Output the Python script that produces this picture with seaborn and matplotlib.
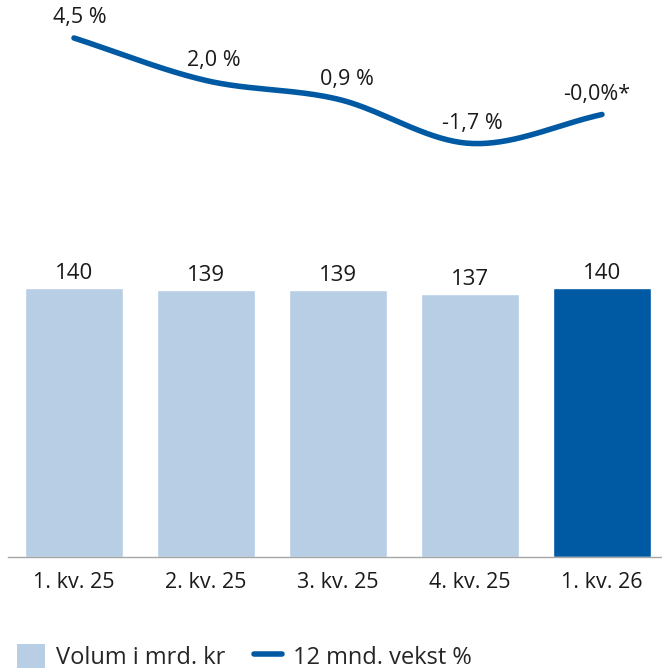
import numpy as np
import pandas as pd
import matplotlib
matplotlib.use("Agg")
import matplotlib.pyplot as plt
import seaborn as sns
from matplotlib.patches import Patch
from matplotlib.lines import Line2D

# Data
quarters = ["1. kv. 25", "2. kv. 25", "3. kv. 25", "4. kv. 25", "1. kv. 26"]
volume = [140, 139, 139, 137, 140]
growth = [4.5, 2.0, 0.9, -1.7, -0.0]
growth_labels = ["4,5 %", "2,0 %", "0,9 %", "-1,7 %", "-0,0%*"]
legend_labels = ["Volum i mrd. kr", "12 mnd. vekst %"]

LIGHT = "#B8CEE5"
DARK = "#0059A3"
bar_colors = [LIGHT] * 4 + [DARK]


def smooth_curve(y, steps=40):
    """Catmull-Rom style smoothing through the points (like Excel smoothed lines)."""
    y = np.asarray(y, dtype=float)
    n = len(y)
    m = np.zeros(n)
    m[0] = y[1] - y[0]
    m[-1] = y[-1] - y[-2]
    m[1:-1] = (y[2:] - y[:-2]) / 2.0
    xs, ys = [], []
    for i in range(n - 1):
        t = np.linspace(0, 1, steps, endpoint=(i == n - 2))
        h00 = 2 * t**3 - 3 * t**2 + 1
        h10 = t**3 - 2 * t**2 + t
        h01 = -2 * t**3 + 3 * t**2
        h11 = t**3 - t**2
        xs.append(i + t)
        ys.append(h00 * y[i] + h10 * m[i] + h01 * y[i + 1] + h11 * m[i + 1])
    return np.concatenate(xs), np.concatenate(ys)


sns.set_theme(style="white")
plt.rcParams["font.family"] = ["Open Sans", "DejaVu Sans"]

fig = plt.figure(figsize=(6.62, 6.71), dpi=100)
ax = fig.add_axes([8 / 662, (671 - 557) / 671, 654 / 662, 557 / 671])

df = pd.DataFrame({"quarter": quarters, "volume": volume})
sns.barplot(data=df, x="quarter", y="volume", hue="quarter", palette=bar_colors,
            width=0.74, saturation=1, legend=False, ax=ax)

for cont in ax.containers:
    ax.bar_label(cont, fmt="%d", padding=3, fontsize=16, color="#1a1a1a")

ax.set_xlim(-0.5, 4.455)
ax.set_ylim(0, 289.9)
ax.set_xlabel("")
ax.set_ylabel("")
ax.set_yticks([])
ax.tick_params(axis="x", length=0, pad=11, labelsize=15.5, labelcolor="#1a1a1a")
for side in ["top", "left", "right"]:
    ax.spines[side].set_visible(False)
ax.spines["bottom"].set_color("#A6A6A6")
ax.spines["bottom"].set_linewidth(1)

# growth line on a secondary axis, sitting in the upper part
ax2 = ax.twinx()
xs, ys = smooth_curve(growth)
sns.lineplot(x=xs, y=ys, sort=False, color=DARK, lw=4, solid_capstyle="round", ax=ax2)
ax2.set_ylim(-26.03, 6.735)
ax2.set_yticks([])
ax2.set_ylabel("")
for side in ax2.spines:
    ax2.spines[side].set_visible(False)

label_dx = [6, 8, 9, 2, -5]
for i, (val, txt) in enumerate(zip(growth, growth_labels)):
    ax2.annotate(txt, (i, val), xytext=(label_dx[i], 20), textcoords="offset pixels",
                 ha="center", va="center", fontsize=15.5, color="#1a1a1a")

handles = [Patch(facecolor=LIGHT, edgecolor="none"),
           Line2D([0], [0], color=DARK, lw=4)]
fig.legend(handles, legend_labels, ncol=2, frameon=False, loc="center left",
           bbox_to_anchor=(17 / 662, (671 - 657) / 671), fontsize=17,
           handlelength=1.2, handleheight=1.2, handletextpad=0.45,
           columnspacing=1.2, borderpad=0, borderaxespad=0)

fig.savefig("out.png", dpi=100)
